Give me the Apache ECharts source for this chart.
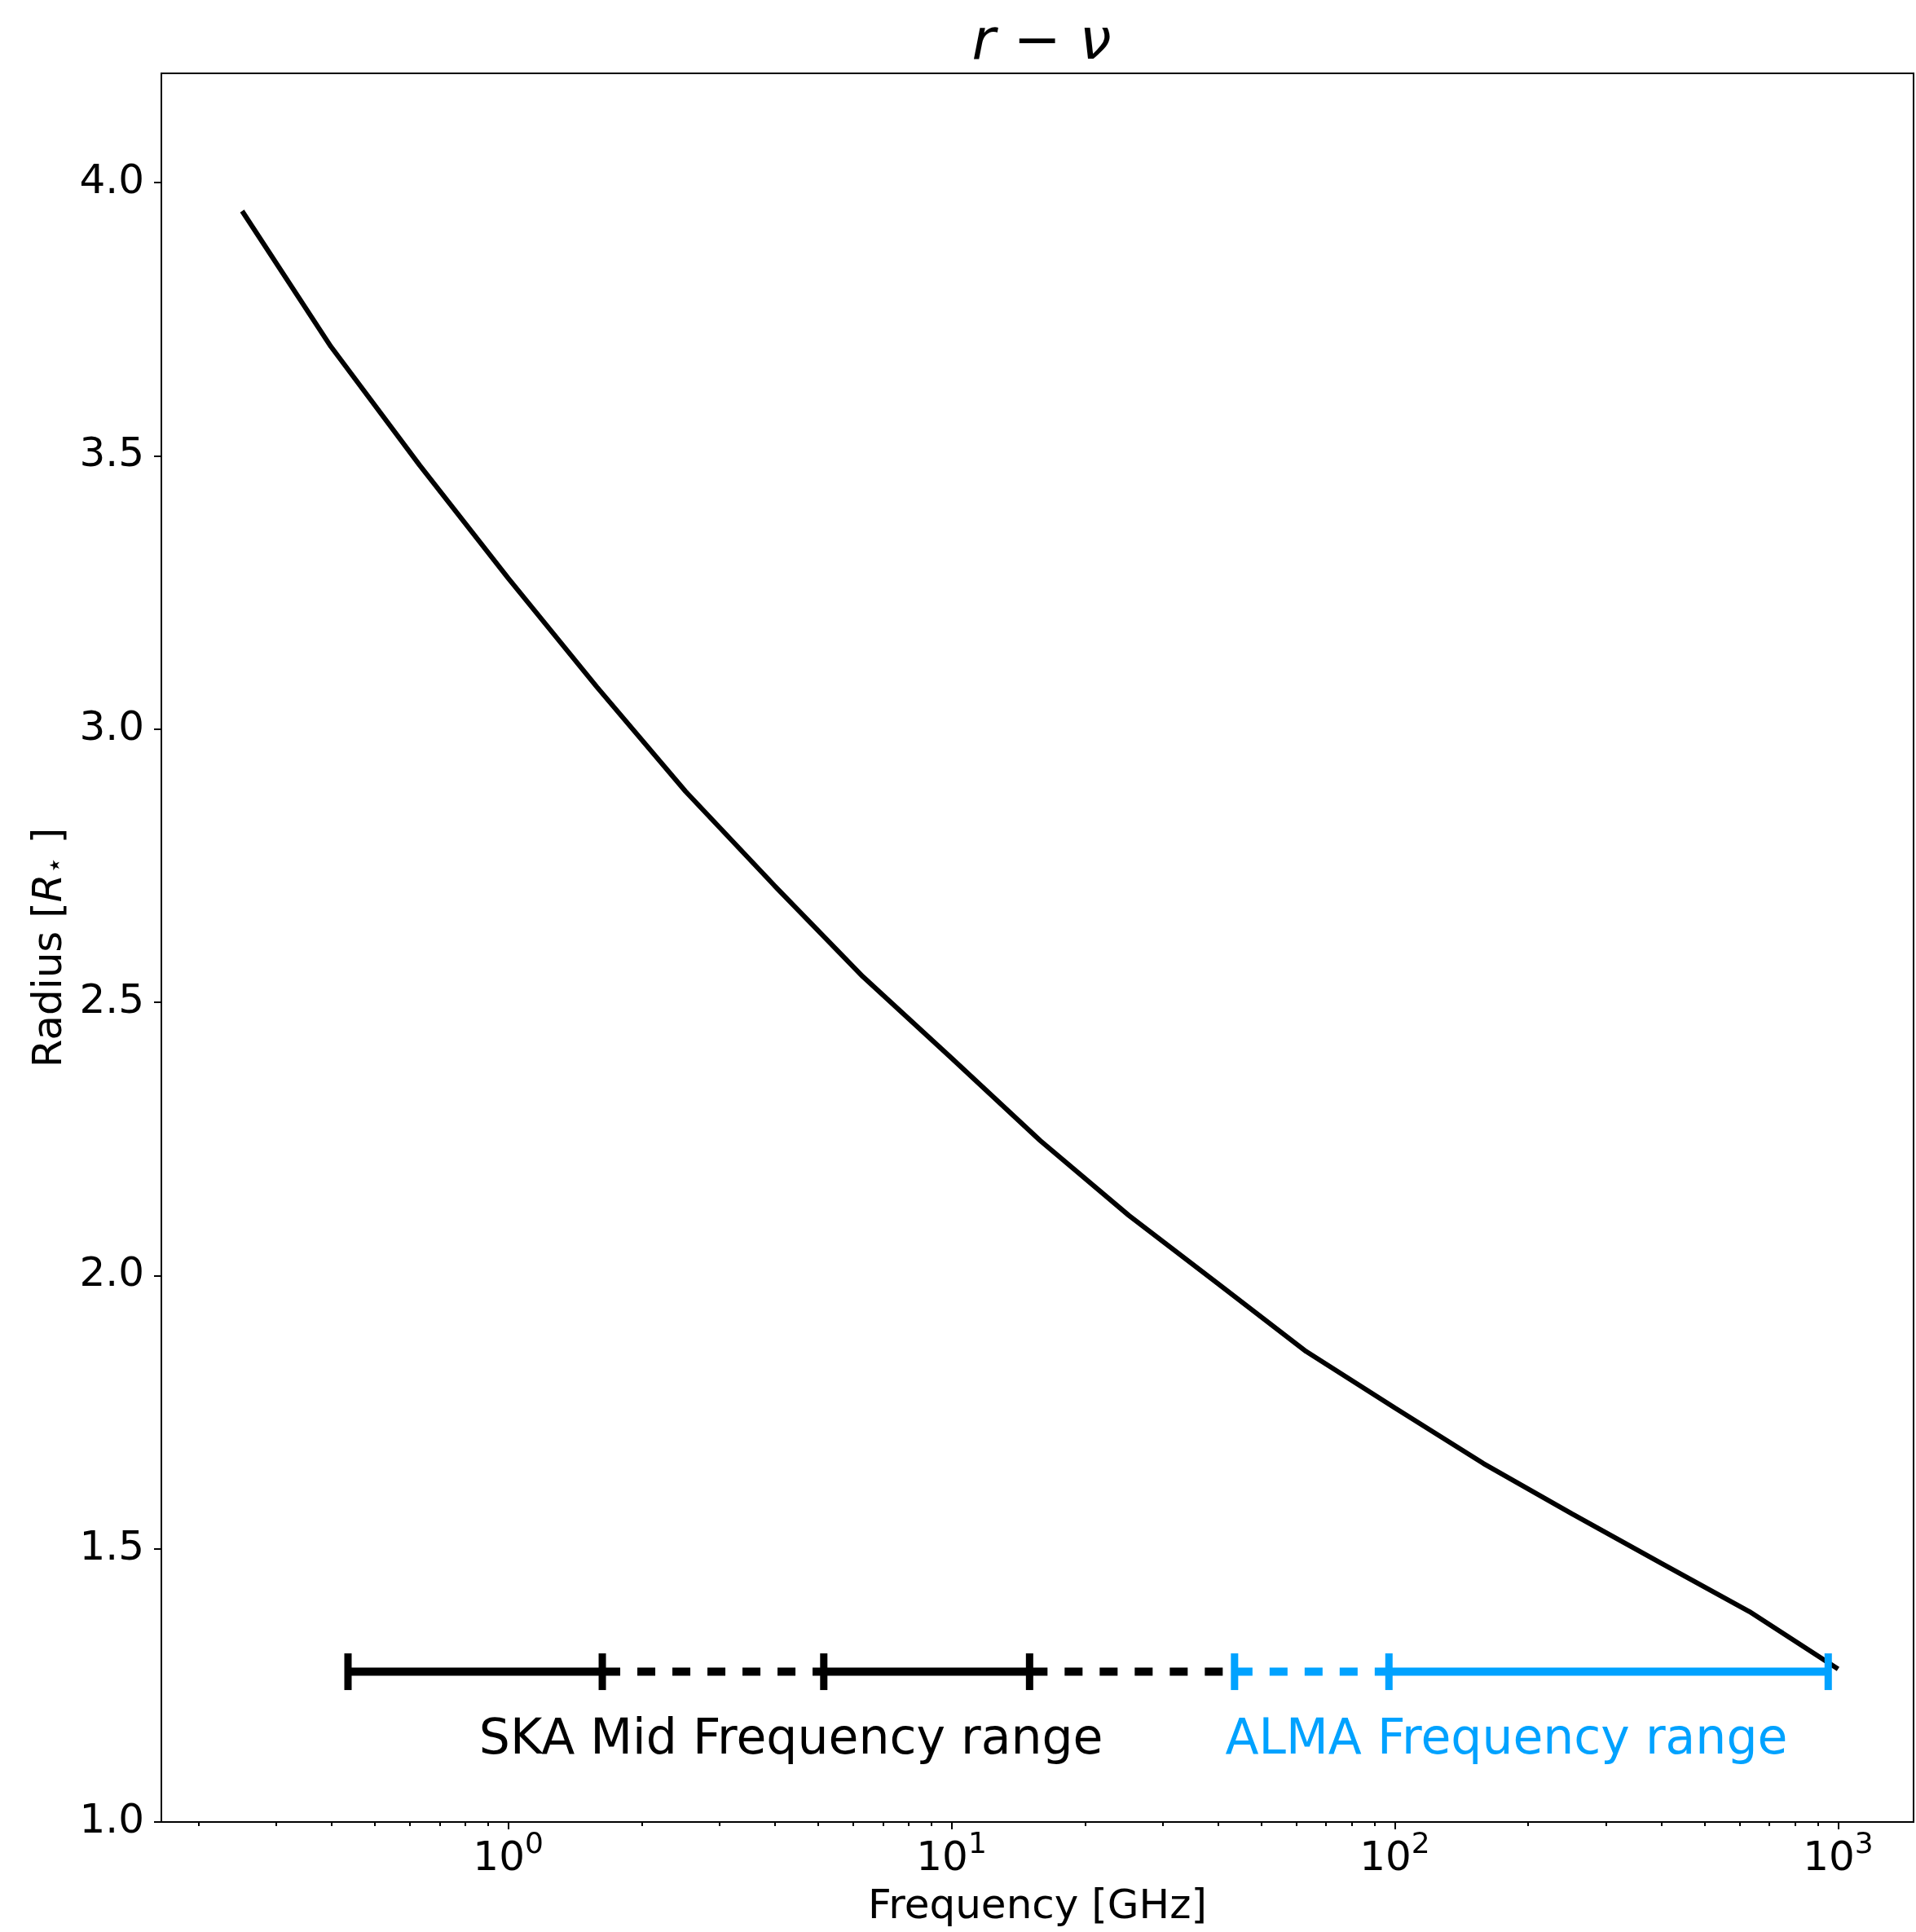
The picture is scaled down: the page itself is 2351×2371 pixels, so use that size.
<!DOCTYPE html>
<html><head><meta charset="utf-8">
<script src="https://cdn.jsdelivr.net/npm/echarts@6/dist/echarts.min.js"></script>
<style>html,body{margin:0;padding:0;background:#fff}#c{width:2351px;height:2371px}</style>
</head><body><div id="c"></div>
<script>
// ---- data ----
const frequencyGHz = [0.251, 0.398, 0.631, 1.0, 1.585, 2.512, 3.981, 6.310, 10.0, 15.85, 25.12, 39.81, 63.10, 100.0, 158.5, 251.2, 398.1, 631.0, 1000.0];
const radius = [3.948, 3.700, 3.483, 3.276, 3.077, 2.886, 2.714, 2.547, 2.398, 2.247, 2.110, 1.986, 1.861, 1.758, 1.656, 1.564, 1.474, 1.385, 1.280];
const rangeLevel = 1.275;
const skaSolid = [[0.435, 1.63], [5.15, 15.0]];
const skaDashed = [[1.63, 5.15], [15.0, 43.5]];
const almaDashed = [[43.5, 97]];
const almaSolid = [[97, 950]];
const capsBlack = [0.435, 1.63, 5.15, 15.0];
const capsBlue = [43.5, 97, 950];
const skaLabel = {text: 'SKA Mid Frequency range', x: 4.345, y: 1.148};
const almaLabel = {text: 'ALMA Frequency range', x: 178.6, y: 1.148};
const majorTicksX = [1, 10, 100, 1000];
const minorTicksX = [0.2,0.3,0.4,0.5,0.6,0.7,0.8,0.9, 2,3,4,5,6,7,8,9, 20,30,40,50,60,70,80,90, 200,300,400,500,600,700,800,900];
const yTicks = [1.0, 1.5, 2.0, 2.5, 3.0, 3.5, 4.0];

const BLUE = '#00a2ff';
const FONT = 'DejaVu Sans';

function segSeries(segs, color, dashed) {
  return segs.map(s => ({
    type: 'line', xAxisIndex: 0, yAxisIndex: 0,
    data: [[s[0], rangeLevel], [s[1], rangeLevel]],
    showSymbol: false, symbol: 'none', silent: true, z: 3,
    lineStyle: {color: color, width: 10, opacity: 1, type: dashed ? [22, 21] : 'solid', cap: 'butt'}
  }));
}
function capSeries(xs, color) {
  return {
    type: 'scatter', symbol: 'rect', symbolSize: [9, 45], z: 4, silent: true,
    itemStyle: {color: color, opacity: 1},
    data: xs.map(x => [x, rangeLevel])
  };
}
function labelSeries(l, color) {
  return {
    type: 'scatter', symbolSize: 0.01, silent: true, z: 5,
    itemStyle: {color: 'rgba(0,0,0,0)', opacity: 1},
    label: {show: true, position: 'inside', formatter: l.text, fontFamily: FONT, fontSize: 60, color: color, opacity: 1},
    data: [[l.x, l.y]]
  };
}

const chart = echarts.init(document.getElementById('c'), null, {renderer: 'canvas'});
chart.setOption({
  animation: false,
  backgroundColor: '#fff',
  textStyle: {fontFamily: FONT},
  title: {
    text: '{i|r} − {i|ν}', left: 1273, top: 14, textAlign: 'center',
    textStyle: {fontFamily: FONT, fontSize: 70, color: '#000', fontWeight: 'normal',
      rich: {i: {fontFamily: FONT, fontSize: 70, fontStyle: 'italic', color: '#000'}}}
  },
  grid: {left: 198, top: 90, width: 2150, height: 2147, show: true, borderColor: '#000', borderWidth: 2, backgroundColor: 'transparent'},
  xAxis: [{
    type: 'log', logBase: 10, min: 0.165, max: 1480, gridIndex: 0,
    axisLine: {show: true, onZero: false, lineStyle: {color: '#000', width: 2}},
    axisTick: {show: true, customValues: majorTicksX, length: 9, lineStyle: {color: '#000', width: 2}},
    axisLabel: {show: true, customValues: majorTicksX, margin: 11,
      formatter: v => '{b|10}{s|' + Math.round(Math.log10(v)) + '}',
      rich: {
        b: {fontFamily: FONT, fontSize: 50, color: '#000', lineHeight: 60, verticalAlign: 'bottom'},
        s: {fontFamily: FONT, fontSize: 36, color: '#000', lineHeight: 30, verticalAlign: 'top'}
      }},
    splitLine: {show: false}, minorTick: {show: false},
    name: 'Frequency [GHz]', nameLocation: 'middle', nameGap: 80,
    nameTextStyle: {fontFamily: FONT, fontSize: 50, color: '#000'}
  }, {
    type: 'log', logBase: 10, min: 0.165, max: 1480, gridIndex: 0, position: 'bottom',
    axisLine: {show: false},
    axisTick: {show: true, customValues: minorTicksX, length: 5, lineStyle: {color: '#000', width: 2}},
    axisLabel: {show: false},
    splitLine: {show: false}
  }],
  yAxis: {
    type: 'value', min: 1.0, max: 4.2,
    axisLine: {show: true, onZero: false, lineStyle: {color: '#000', width: 2}},
    axisTick: {show: true, customValues: yTicks, length: 9, lineStyle: {color: '#000', width: 2}},
    axisLabel: {show: true, customValues: yTicks, margin: 21, formatter: v => v.toFixed(1),
      fontFamily: FONT, fontSize: 50, color: '#000'},
    splitLine: {show: false},
    name: '{n|Radius [}{i|R}{s|⋆}{n| ]}', nameLocation: 'middle', nameRotate: 90, nameGap: 111,
    nameTextStyle: {fontFamily: FONT, fontSize: 50, color: '#000',
      rich: {
        n: {fontFamily: FONT, fontSize: 50, color: '#000'},
        i: {fontFamily: FONT, fontSize: 50, fontStyle: 'italic', color: '#000'},
        s: {fontFamily: FONT, fontSize: 34, color: '#000', verticalAlign: 'bottom', lineHeight: 40}
      }}
  },
  series: [
    {type: 'line', data: frequencyGHz.map((f, i) => [f, radius[i]]), showSymbol: false, symbol: 'none',
     lineStyle: {color: '#000', width: 6}, z: 2, silent: true},
    ...segSeries(skaSolid, '#000', false),
    ...segSeries(skaDashed, '#000', true),
    ...segSeries(almaDashed, BLUE, true),
    ...segSeries(almaSolid, BLUE, false),
    capSeries(capsBlack, '#000'),
    capSeries(capsBlue, BLUE),
    labelSeries(skaLabel, '#000'),
    labelSeries(almaLabel, BLUE)
  ]
});
</script></body></html>
